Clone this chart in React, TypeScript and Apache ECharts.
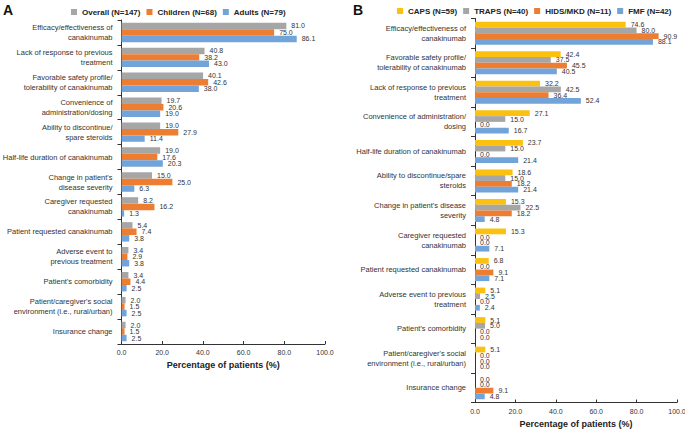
import React, { useEffect, useRef } from "react";
import * as echarts from "echarts";

const categoriesA = [
  "Efficacy/effectiveness of\ncanakinumab",
  "Lack of response to previous\ntreatment",
  "Favorable safety profile/\ntolerability of canakinumab",
  "Convenience of\nadministration/dosing",
  "Ability to discontinue/\nspare steroids",
  "Half-life duration of canakinumab",
  "Change in patient's\ndisease severity",
  "Caregiver requested\ncanakinumab",
  "Patient requested canakinumab",
  "Adverse event to\nprevious treatment",
  "Patient's comorbidity",
  "Patient/caregiver's social\nenvironment (i.e., rural/urban)",
  "Insurance change",
];
const overall = [81.0, 40.8, 40.1, 19.7, 19.0, 19.0, 15.0, 8.2, 5.4, 3.4, 3.4, 2.0, 2.0];
const children = [75.0, 38.2, 42.6, 20.6, 27.9, 17.6, 25.0, 16.2, 7.4, 2.9, 4.4, 1.5, 1.5];
const adults = [86.1, 43.0, 38.0, 19.0, 11.4, 20.3, 6.3, 1.3, 3.8, 3.8, 2.5, 2.5, 2.5];

const categoriesB = [
  "Efficacy/effectiveness of\ncanakinumab",
  "Favorable safety profile/\ntolerability of canakinumab",
  "Lack of response to previous\ntreatment",
  "Convenience of administration/\ndosing",
  "Half-life duration of canakinumab",
  "Ability to discontinue/spare\nsteroids",
  "Change in patient's disease\nseverity",
  "Caregiver requested\ncanakinumab",
  "Patient requested canakinumab",
  "Adverse event to previous\ntreatment",
  "Patient's comorbidity",
  "Patient/caregiver's social\nenvironment (i.e., rural/urban)",
  "Insurance change",
];
const caps = [74.6, 42.4, 32.2, 27.1, 23.7, 18.6, 15.3, 15.3, 6.8, 5.1, 5.1, 5.1, 0.0];
const traps = [80.0, 37.5, 42.5, 15.0, 15.0, 15.0, 22.5, 0.0, 0.0, 2.5, 5.0, 0.0, 0.0];
const hids = [90.9, 45.5, 36.4, 0.0, 0.0, 18.2, 18.2, 0.0, 9.1, 0.0, 0.0, 0.0, 9.1];
const fmf = [88.1, 40.5, 52.4, 16.7, 21.4, 21.4, 4.8, 7.1, 7.1, 2.4, 0.0, 0.0, 4.8];

const xTicks = [0, 20, 40, 60, 80, 100];

const FONT = "Arial, 'Liberation Sans', Helvetica, sans-serif";
const GRAY = "#a6a6a6";
const ORANGE = "#ed7d31";
const BLUE = "#72a3d9";
const YELLOW = "#fbc10e";

export default function App() {
  const ref = useRef<HTMLDivElement>(null);
  useEffect(() => {
    if (!ref.current) return;
    document.body.style.margin = "0";
    const chart = echarts.init(ref.current, null, { renderer: "svg" });

    const yAxisBase = (data: string[], gridIndex: number) => ({
      type: "category",
      gridIndex,
      data,
      inverse: true,
      axisLine: { lineStyle: { color: "#333", width: 1 } },
      axisTick: { show: true, length: 4, lineStyle: { color: "#333" } },
      axisLabel: {
        color: "#333",
        fontSize: 7.5,
        lineHeight: 10,
        fontFamily: FONT,
        margin: 9,
        align: "right",
      },
    });
    const xAxisBase = (gridIndex: number) => ({
      type: "value",
      gridIndex,
      min: xTicks[0],
      max: xTicks[xTicks.length - 1],
      interval: 20,
      splitLine: { show: false },
      axisLine: { show: true, lineStyle: { color: "#333", width: 1 } },
      axisTick: { show: true, inside: true, length: 3, lineStyle: { color: "#333" } },
      axisLabel: {
        color: "#333",
        fontSize: 7,
        fontFamily: FONT,
        margin: 5,
        formatter: (v: number) => v.toFixed(1),
      },
      name: "Percentage of patients (%)",
      nameLocation: "middle",
      nameGap: 15,
      nameTextStyle: { fontSize: 9, fontWeight: "bold", color: "#222", fontFamily: FONT },
    });

    const barSeries = (name: string, data: number[], color: string, idx: number) => ({
      type: "bar",
      name,
      data,
      xAxisIndex: idx,
      yAxisIndex: idx,
      barGap: "0%",
      barCategoryGap: "22%",
      itemStyle: { color },
      label: {
        show: true,
        position: "right",
        distance: 5,
        fontSize: 7,
        color: "#333",
        fontFamily: FONT,
        formatter: (p: any) => Number(p.value).toFixed(1),
      },
    });

    const legendBase = {
      itemWidth: 6,
      itemHeight: 6,
      icon: "rect",
      textStyle: { fontSize: 8, fontWeight: "bold", color: "#222", fontFamily: FONT },
      itemGap: 6,
      top: 3,
    };

    chart.setOption({
      animation: false,
      textStyle: { fontFamily: FONT },
      title: [
        { text: "A", left: -2, top: -2, textStyle: { fontSize: 14, fontWeight: "bold", color: "#111", fontFamily: FONT } },
        { text: "B", left: 348, top: -2, textStyle: { fontSize: 14, fontWeight: "bold", color: "#111", fontFamily: FONT } },
      ],
      legend: [
        {
          ...legendBase,
          left: 66,
          data: ["Overall (N=147)", "Children (N=68)", "Adults (N=79)"],
        },
        {
          ...legendBase,
          left: 392,
          top: 2,
          data: ["CAPS (N=59)", "TRAPS (N=40)", "HIDS/MKD (N=11)", "FMF (N=42)"],
        },
      ],
      grid: [
        { left: 121.5, right: 360, top: 20, bottom: 86, outerBoundsMode: "none", containLabel: false },
        { left: 475, right: 8, top: 18.5, bottom: 27.5, outerBoundsMode: "none", containLabel: false },
      ],
      xAxis: [xAxisBase(0), xAxisBase(1)],
      yAxis: [yAxisBase(categoriesA, 0), yAxisBase(categoriesB, 1)],
      series: [
        barSeries("Overall (N=147)", overall, GRAY, 0),
        barSeries("Children (N=68)", children, ORANGE, 0),
        barSeries("Adults (N=79)", adults, BLUE, 0),
        barSeries("CAPS (N=59)", caps, YELLOW, 1),
        barSeries("TRAPS (N=40)", traps, GRAY, 1),
        barSeries("HIDS/MKD (N=11)", hids, ORANGE, 1),
        barSeries("FMF (N=42)", fmf, BLUE, 1),
      ],
    });
    return () => chart.dispose();
  }, []);
  return <div ref={ref} style={{ width: 685, height: 430 }} />;
}
